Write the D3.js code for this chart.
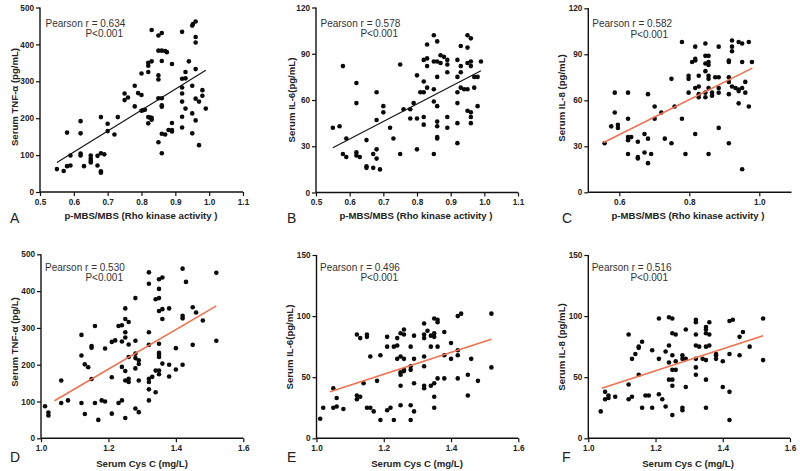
<!DOCTYPE html>
<html>
<head>
<meta charset="utf-8">
<script src="https://cdn.jsdelivr.net/npm/d3@7"></script>
<style>
  html, body { margin: 0; padding: 0; background: #fff; }
  svg { display: block; font-family: "Liberation Sans", Arial, sans-serif; }
</style>
</head>
<body>
<svg id="chart" width="800" height="471"></svg>
<script>
// ---------------- DATA ----------------
const pointsA = [[0.55,62],[0.57,57],[0.58,161],[0.58,70],[0.59,99],[0.59,72],[0.62,192],[0.62,159],[0.62,104],[0.62,99],
  [0.63,70],[0.65,99],[0.65,91],[0.65,85],[0.65,80],[0.67,98],[0.67,72],[0.68,203],[0.68,105],[0.68,56],[0.68,52],[0.69,102],
  [0.70,185],[0.70,165],[0.72,156],[0.73,203],[0.75,267],[0.75,249],[0.76,256],[0.78,288],[0.78,232],[0.79,268],[0.80,263],
  [0.80,321],[0.80,220],[0.805,222],[0.81,223],[0.82,325],[0.82,342],[0.82,350],[0.82,203],[0.82,186],[0.825,202],[0.83,354],
  [0.83,439],[0.83,201],[0.83,196],[0.85,424],[0.86,431],[0.85,383],[0.86,383],[0.87,382],[0.875,379],[0.85,316],[0.85,305],
  [0.85,254],[0.86,254],[0.86,355],[0.86,235],[0.86,231],[0.85,135],[0.86,158],[0.87,156],[0.86,105],[0.88,168],[0.89,168],
  [0.89,187],[0.89,347],[0.89,164],[0.92,434],[0.92,307],[0.93,308],[0.92,283],[0.92,267],[0.92,245],[0.92,204],[0.92,175],
  [0.93,325],[0.93,226],[0.94,354],[0.95,451],[0.952,455],[0.96,462],[0.96,420],[0.96,405],[0.96,333],[0.95,288],[0.96,253],
  [0.96,194],[0.95,213],[0.95,159],[0.97,245],[0.97,127],[0.98,276],[0.98,261],[0.99,226]];

const pointsB = [[0.55,42],[0.57,43],[0.58,82],[0.58,25],[0.59,35],[0.59,23],[0.62,71],[0.62,58],[0.62,26],[0.62,24],[0.63,23],
  [0.65,34],[0.65,17],[0.65,16],[0.67,25],[0.67,16],[0.68,65],[0.68,47],[0.68,28],[0.68,22],[0.69,15],[0.70,56],[0.70,52],
  [0.72,42],[0.73,35],[0.75,83],[0.75,25],[0.76,54],[0.78,54],[0.78,48],[0.79,58],[0.80,76],[0.80,48],[0.80,28],[0.81,65],
  [0.82,65],[0.82,72],[0.82,86],[0.82,49],[0.82,44],[0.83,87],[0.83,96],[0.83,82],[0.83,68],[0.85,102],[0.85,85],[0.85,67],
  [0.85,59],[0.85,25],[0.86,85],[0.86,98],[0.86,75],[0.86,56],[0.86,46],[0.86,43],[0.86,36],[0.86,35],[0.87,89],[0.87,84],
  [0.88,88],[0.89,86],[0.89,83],[0.89,78],[0.89,49],[0.89,42],[0.92,86],[0.92,75],[0.92,65],[0.92,58],[0.92,45],[0.92,32],
  [0.93,95],[0.93,82],[0.93,78],[0.93,68],[0.94,67],[0.95,102],[0.95,94],[0.95,84],[0.95,67],[0.95,53],[0.96,100],[0.96,85],
  [0.96,82],[0.96,52],[0.96,49],[0.96,45],[0.97,68],[0.97,75],[0.98,75],[0.98,56],[0.99,85]];

const pointsC = [[0.558,32],[0.577,43],[0.587,65],[0.587,52],[0.596,44],[0.596,42],[0.625,65],[0.625,48],[0.625,36],[0.625,34],
  [0.625,25],[0.634,36],[0.653,33],[0.653,23],[0.653,22],[0.672,38],[0.672,26],[0.682,64],[0.682,35],[0.682,19],[0.691,25],
  [0.701,56],[0.701,48],[0.72,52],[0.73,35],[0.749,74],[0.749,32],[0.758,56],[0.779,98],[0.779,48],[0.789,25],[0.798,76],
  [0.798,74],[0.798,65],[0.808,85],[0.817,87],[0.817,86],[0.817,95],[0.817,68],[0.817,38],[0.827,76],[0.827,69],[0.827,64],
  [0.827,62],[0.846,97],[0.846,89],[0.846,84],[0.846,79],[0.846,65],[0.846,62],[0.855,89],[0.855,85],[0.855,83],[0.855,76],
  [0.855,74],[0.855,68],[0.855,25],[0.865,65],[0.865,63],[0.874,75],[0.884,95],[0.884,75],[0.884,68],[0.884,65],[0.884,42],
  [0.913,85],[0.913,86],[0.913,75],[0.913,72],[0.913,64],[0.913,32],[0.922,99],[0.922,95],[0.922,92],[0.922,69],[0.932,68],
  [0.941,98],[0.941,67],[0.941,66],[0.941,58],[0.951,68],[0.951,97],[0.951,85],[0.951,15],[0.96,72],[0.96,65],[0.97,98],
  [0.97,56],[0.979,85]];

const pointsD = [[1.012,87],[1.022,70],[1.022,62],[1.06,157],[1.06,96],[1.08,103],[1.12,225],[1.12,281],[1.12,96],[1.13,201],
  [1.13,66],[1.14,193],[1.15,251],[1.15,246],[1.15,161],[1.16,305],[1.16,96],[1.17,50],[1.18,103],[1.19,100],[1.19,244],
  [1.21,262],[1.21,166],[1.21,67],[1.22,266],[1.23,305],[1.23,96],[1.24,307],[1.24,263],[1.24,194],[1.24,103],[1.25,353],
  [1.25,324],[1.25,288],[1.25,274],[1.25,183],[1.25,157],[1.25,55],[1.26,316],[1.26,255],[1.26,221],[1.26,162],[1.26,153],
  [1.28,381],[1.28,265],[1.28,230],[1.28,218],[1.28,190],[1.28,81],[1.29,212],[1.29,202],[1.29,157],[1.29,71],[1.32,451],
  [1.32,420],[1.32,288],[1.32,254],[1.32,162],[1.32,153],[1.32,133],[1.32,103],[1.33,167],[1.34,378],[1.34,184],[1.34,125],
  [1.35,432],[1.35,406],[1.35,381],[1.35,346],[1.35,257],[1.35,232],[1.35,227],[1.35,221],[1.35,184],[1.35,174],[1.36,437],
  [1.36,351],[1.36,324],[1.36,203],[1.38,353],[1.38,200],[1.38,168],[1.40,245],[1.40,187],[1.42,461],[1.42,333],[1.42,326],
  [1.42,200],[1.43,425],[1.45,356],[1.45,254],[1.46,342],[1.48,320],[1.52,450],[1.52,265]];

const pointsE = [[1.011,16],[1.02,25],[1.05,41],[1.05,25],[1.06,33],[1.06,26],[1.08,24],[1.12,85],[1.12,35],[1.12,32],[1.13,82],
  [1.13,34],[1.14,45],[1.15,85],[1.15,83],[1.15,25],[1.16,67],[1.16,25],[1.17,22],[1.18,47],[1.19,68],[1.19,15],[1.21,83],
  [1.21,75],[1.21,23],[1.22,25],[1.23,75],[1.23,15],[1.24,82],[1.24,76],[1.24,65],[1.25,86],[1.25,67],[1.25,54],[1.25,52],
  [1.25,43],[1.25,27],[1.26,89],[1.26,85],[1.26,65],[1.26,56],[1.26,55],[1.28,75],[1.28,59],[1.28,56],[1.28,27],[1.28,15],
  [1.29,84],[1.29,65],[1.29,45],[1.29,22],[1.32,94],[1.32,85],[1.32,82],[1.32,67],[1.32,59],[1.32,43],[1.32,41],[1.33,88],
  [1.34,84],[1.34,75],[1.34,43],[1.35,98],[1.35,86],[1.35,83],[1.35,45],[1.35,34],[1.35,25],[1.36,97],[1.36,95],[1.36,75],
  [1.36,49],[1.38,87],[1.38,68],[1.38,49],[1.40,78],[1.40,65],[1.42,100],[1.43,102],[1.42,72],[1.42,68],[1.42,49],[1.45,52],
  [1.45,35],[1.46,65],[1.48,47],[1.52,102],[1.52,58]];

const pointsF = [[1.037,22],[1.05,38],[1.05,32],[1.06,35],[1.06,33],[1.08,34],[1.12,85],[1.12,44],[1.12,32],[1.13,65],[1.13,34],
  [1.14,69],[1.15,74],[1.15,75],[1.15,52],[1.16,79],[1.16,25],[1.17,35],[1.18,35],[1.19,72],[1.19,25],[1.21,98],[1.21,65],
  [1.21,36],[1.22,32],[1.23,71],[1.23,26],[1.24,99],[1.24,76],[1.24,62],[1.24,48],[1.25,98],[1.25,86],[1.25,68],[1.25,56],
  [1.25,48],[1.25,43],[1.25,19],[1.26,85],[1.26,63],[1.26,56],[1.28,68],[1.28,65],[1.28,25],[1.28,23],[1.29,89],[1.29,65],
  [1.29,42],[1.32,97],[1.32,95],[1.32,85],[1.32,76],[1.32,65],[1.32,58],[1.32,52],[1.33,75],[1.34,65],[1.35,91],[1.35,89],
  [1.35,86],[1.35,75],[1.35,64],[1.35,48],[1.35,25],[1.36,95],[1.36,85],[1.36,76],[1.38,69],[1.38,68],[1.38,65],[1.40,63],
  [1.40,42],[1.42,96],[1.43,97],[1.42,69],[1.42,38],[1.42,15],[1.45,83],[1.45,68],[1.46,87],[1.48,75],[1.52,98],[1.52,64]];

// fitted regression lines (end points)
const fitA = [[0.55,80],[0.99,330]];
const fitB = [[0.55,29],[0.99,79]];
const fitC = [[0.555,32.5],[0.98,81]];
const fitD = [[1.04,102],[1.52,360]];
const fitE = [[1.04,38],[1.52,81]];
const fitF = [[1.04,41],[1.52,84]];

// tick labels
const xTicksMBS = [0.5,0.6,0.7,0.8,0.9,1.0,1.1];
const xTicksMBSwide = [0.6,0.8,1.0];
const xTicksCys = [1.0,1.2,1.4,1.6];
const yTicksTNF = [0,100,200,300,400,500];
const yTicksIL = [0,30,60,90,120];
const yTicksIL150 = [0,50,100,150];

const letters = ["A","B","C","D","E","F"];
const pearsonR = ["0.634","0.578","0.582","0.530","0.496","0.516"];
const pText = "P<0.001";
const yTitles = ["Serum TNF-\u03b1 (pg/mL)","Serum IL-6(pg/mL)","Serum IL-8 (pg/mL)",
                 "Serum TNF-\u03b1  (pg/L)","Serum IL-6(pg/mL)","Serum IL-8 (pg/mL)"];
const xTitles = ["p-MBS/MBS (Rho kinase activity )","p-MBS/MBS (Rho kinase activity )","p-MBS/MBS (Rho kinase activity )",
                 "Serum Cys C (mg/L)","Serum Cys C (mg/L)","Serum Cys C (mg/L)"];

// ---------------- LAYOUT ----------------
const ORANGE = "#f2704e";
const panels = [
  {pts: pointsA, fit: fitA, xd:[0.5,1.1], xr:[40,243], axisX:[40,243], yd:[0,500], yr:[192,7.5], yax:40,
   xt:xTicksMBS, yt:yTicksTNF, fitColor:"#111", fitW:1.1, ytx:17.5, yty:97, xtx:141, xty:218.5, lx:10, ly:222.5,
   px:45.5, py:26.8, ppx:123, ppy:37},
  {pts: pointsB, fit: fitB, xd:[0.5,1.1], xr:[316,518], axisX:[316,518], yd:[0,120], yr:[192.5,7.5], yax:316,
   xt:xTicksMBS, yt:yTicksIL, fitColor:"#111", fitW:1.1, ytx:294.5, yty:100, xtx:416, xty:218.5, lx:287, ly:222.5,
   px:320.5, py:26.8, ppx:398, ppy:37},
  {pts: pointsC, fit: fitC, xd:[0.6,1.0], xr:[619.3,759.3], axisX:[588.3,791.5], yd:[0,120], yr:[192.3,8.3], yax:588.3,
   xt:xTicksMBSwide, yt:yTicksIL, fitColor:ORANGE, fitW:1.6, ytx:564.5, yty:98, xtx:688, xty:218.5, lx:562, ly:222.5,
   px:592.3, py:26.8, ppx:668, ppy:37.5},
  {pts: pointsD, fit: fitD, xd:[1.0,1.6], xr:[41,243.3], axisX:[41,243.3], yd:[0,500], yr:[438.3,254.3], yax:41,
   xt:xTicksCys, yt:yTicksTNF, fitColor:ORANGE, fitW:1.6, ytx:17.5, yty:342, xtx:142, xty:466.5, lx:10, ly:462,
   px:45, py:270.8, ppx:123, ppy:281.3},
  {pts: pointsE, fit: fitE, xd:[1.0,1.6], xr:[316.5,518.3], axisX:[316.5,518.3], yd:[0,150], yr:[438.3,255], yax:316.5,
   xt:xTicksCys, yt:yTicksIL150, fitColor:ORANGE, fitW:1.6, ytx:292.5, yty:347, xtx:417, xty:466.5, lx:287, ly:462,
   px:320, py:270.8, ppx:398, ppy:281.3},
  {pts: pointsF, fit: fitF, xd:[1.0,1.6], xr:[588.3,790], axisX:[588.3,790], yd:[0,150], yr:[438.3,255], yax:588.3,
   xt:xTicksCys, yt:yTicksIL150, fitColor:ORANGE, fitW:1.6, ytx:564.5, yty:347, xtx:688, xty:466.5, lx:562, ly:462,
   px:591.7, py:270.8, ppx:668, ppy:281.3}
];

const svg = d3.select("#chart");
const fmtX = d3.format(".1f");

panels.forEach((p, i) => {
  const x = d3.scaleLinear().domain(p.xd).range(p.xr);
  const y = d3.scaleLinear().domain(p.yd).range(p.yr);
  const g = svg.append("g");

  // x axis
  const xa = g.append("g").attr("transform", `translate(0,${p.yr[0]})`)
    .call(d3.axisBottom(x).tickValues(p.xt).tickFormat(fmtX).tickSize(4).tickPadding(3).tickSizeOuter(0));
  xa.select(".domain").remove();
  xa.append("line").attr("x1", p.axisX[0]).attr("x2", p.axisX[1]).attr("y1", 0).attr("y2", 0)
    .attr("stroke", "#111").attr("stroke-width", 1.4);

  // y axis
  const ya = g.append("g").attr("transform", `translate(${p.yax},0)`)
    .call(d3.axisLeft(y).tickValues(p.yt).tickFormat(d3.format("d")).tickSize(4).tickPadding(2).tickSizeOuter(0));
  ya.select(".domain").remove();
  ya.append("line").attr("x1", 0).attr("x2", 0).attr("y1", p.yr[0]).attr("y2", p.yr[1])
    .attr("stroke", "#111").attr("stroke-width", 1.4);

  g.selectAll(".tick line").attr("stroke", "#111").attr("stroke-width", 1.2);
  g.selectAll(".tick text").attr("fill", "#222").attr("font-size", 8.2).attr("font-weight", "bold")
    .attr("font-family", "'Liberation Sans', Arial, sans-serif");

  // points
  g.append("g").selectAll("circle").data(p.pts).join("circle")
    .attr("cx", d => x(d[0])).attr("cy", d => y(d[1])).attr("r", 2.3).attr("fill", "#0a0a0a");

  // fit line
  g.append("path").datum(p.fit)
    .attr("d", d3.line().x(d => x(d[0])).y(d => y(d[1])))
    .attr("stroke", p.fitColor).attr("stroke-width", p.fitW).attr("fill", "none");

  // annotations
  g.append("text").attr("x", p.px).attr("y", p.py).attr("font-size", 10).attr("fill", "#333")
    .text("Pearson r = " + pearsonR[i]);
  g.append("text").attr("x", p.ppx).attr("y", p.ppy).attr("font-size", 10).attr("fill", "#333")
    .attr("text-anchor", "end").text(pText);

  // axis titles
  g.append("text").attr("transform", `translate(${p.ytx},${p.yty}) rotate(-90)`)
    .attr("text-anchor", "middle").attr("font-size", 9.6).attr("font-weight", "bold").attr("fill", "#222")
    .text(yTitles[i]);
  g.append("text").attr("x", p.xtx).attr("y", p.xty)
    .attr("text-anchor", "middle").attr("font-size", 9.6).attr("font-weight", "bold").attr("fill", "#222")
    .text(xTitles[i]);

  // panel letter
  g.append("text").attr("x", p.lx).attr("y", p.ly).attr("font-size", 14).attr("fill", "#222")
    .text(letters[i]);
});
</script>
</body>
</html>
